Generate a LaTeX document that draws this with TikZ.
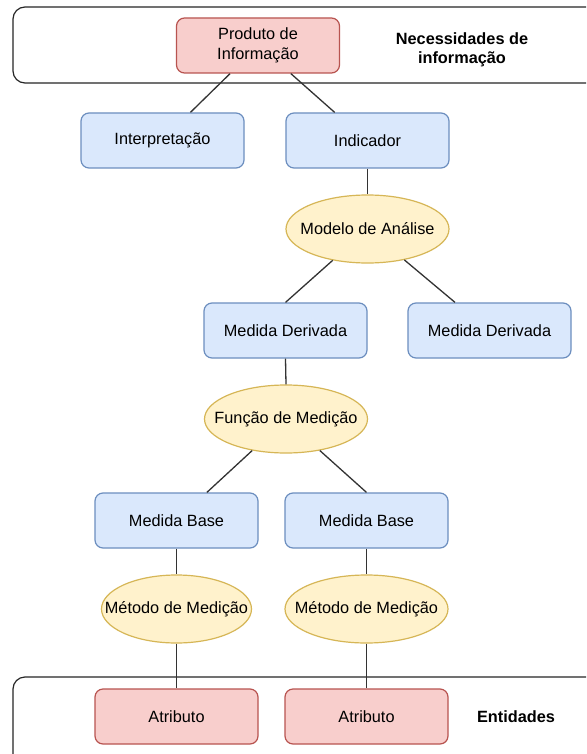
\documentclass[tikz,border=0pt]{standalone}
\usepackage{fontspec}
\setmainfont{Liberation Sans}
\usetikzlibrary{shapes.geometric,calc}
\definecolor{bfill}{HTML}{DAE8FC}
\definecolor{bline}{HTML}{6C8EBF}
\definecolor{yfill}{HTML}{FFF2CC}
\definecolor{yline}{HTML}{D6B656}
\definecolor{rfill}{HTML}{F8CECC}
\definecolor{rline}{HTML}{B85450}
\definecolor{edgec}{HTML}{333333}
\tikzset{
  base/.style={font=\fontsize{16.3}{19.5}\selectfont, inner sep=0pt, align=center, line width=1.2pt},
  txt/.style={font=\fontsize{16.3}{19.5}\selectfont, inner sep=0pt, align=center},
  bluebox/.style={base, rectangle, rounded corners=8pt, draw=bline, fill=bfill, minimum width=163pt, minimum height=55pt},
  redbox/.style={base, rectangle, rounded corners=8pt, draw=rline, fill=rfill, minimum width=163pt, minimum height=55pt},
  yell/.style={base, ellipse, draw=yline, fill=yfill, minimum height=68pt, label={[txt]center:#1}},
  group/.style={draw=black!85, line width=1.2pt, rounded corners=12pt},
  lbl/.style={font=\bfseries\fontsize{16.3}{19.5}\selectfont, align=center, inner sep=0pt},
  conn/.style={draw=edgec, line width=1.3pt}
}
\begin{document}
\begin{tikzpicture}[x=1pt,y=-1pt]
\useasboundingbox (0,0) rectangle (586,754);
\clip (0,0) rectangle (586,754);
\fill[white] (0,0) rectangle (586,754);
% group containers
\draw[group] (13,7) rectangle (600,83);
\draw[group] (13,677) rectangle (600,770);
\node[lbl] (nec) at (462,50) {Necessidades de\\informação};
\node[lbl] (ent) at (516,717) {Entidades};
% nodes
\node[redbox] (prod) at (258,45.5) {Produto de\\Informação};
\node[bluebox] (interp) at (162.5,140.5) {Interpretação};
\node[bluebox] (ind) at (367.5,140.5) {Indicador};
\node[yell={Modelo de Análise}, minimum width=163pt] (mod) at (367.5,229) {};
\node[bluebox] (md1) at (285.5,330.5) {Medida Derivada};
\node[bluebox] (md2) at (489.5,330.5) {Medida Derivada};
\node[yell={Função de Medição}, minimum width=163pt] (func) at (286,419) {};
\node[bluebox] (mb1) at (176.5,520.5) {Medida Base};
\node[bluebox] (mb2) at (366.5,520.5) {Medida Base};
\node[yell={Método de Medição}, minimum width=150pt] (met1) at (176.5,609) {};
\node[yell={Método de Medição}, minimum width=163pt] (met2) at (366.5,609) {};
\node[redbox] (at1) at (176.5,716.5) {Atributo};
\node[redbox] (at2) at (366.5,716.5) {Atributo};
% connectors
\draw[conn] ($(prod.south west)!0.33!(prod.south east)$) -- ($(interp.north west)!0.67!(interp.north east)$);
\draw[conn] ($(prod.south west)!0.70!(prod.south east)$) -- ($(ind.north west)!0.30!(ind.north east)$);
\draw[conn] (ind.south) -- (mod.north);
\draw[conn] (mod.222) -- (md1.north);
\draw[conn] (mod.320) -- ($(md2.north west)!0.29!(md2.north east)$);
\draw[conn] (md1.south) -- (func.north);
\draw[conn] (func.223) -- ($(mb1.north west)!0.685!(mb1.north east)$);
\draw[conn] (func.317) -- (mb2.north);
\draw[conn] (mb1.south) -- (met1.north);
\draw[conn] (mb2.south) -- (met2.north);
\draw[conn] (met1.south) -- (at1.north);
\draw[conn] (met2.south) -- (at2.north);
\end{tikzpicture}
\end{document}
